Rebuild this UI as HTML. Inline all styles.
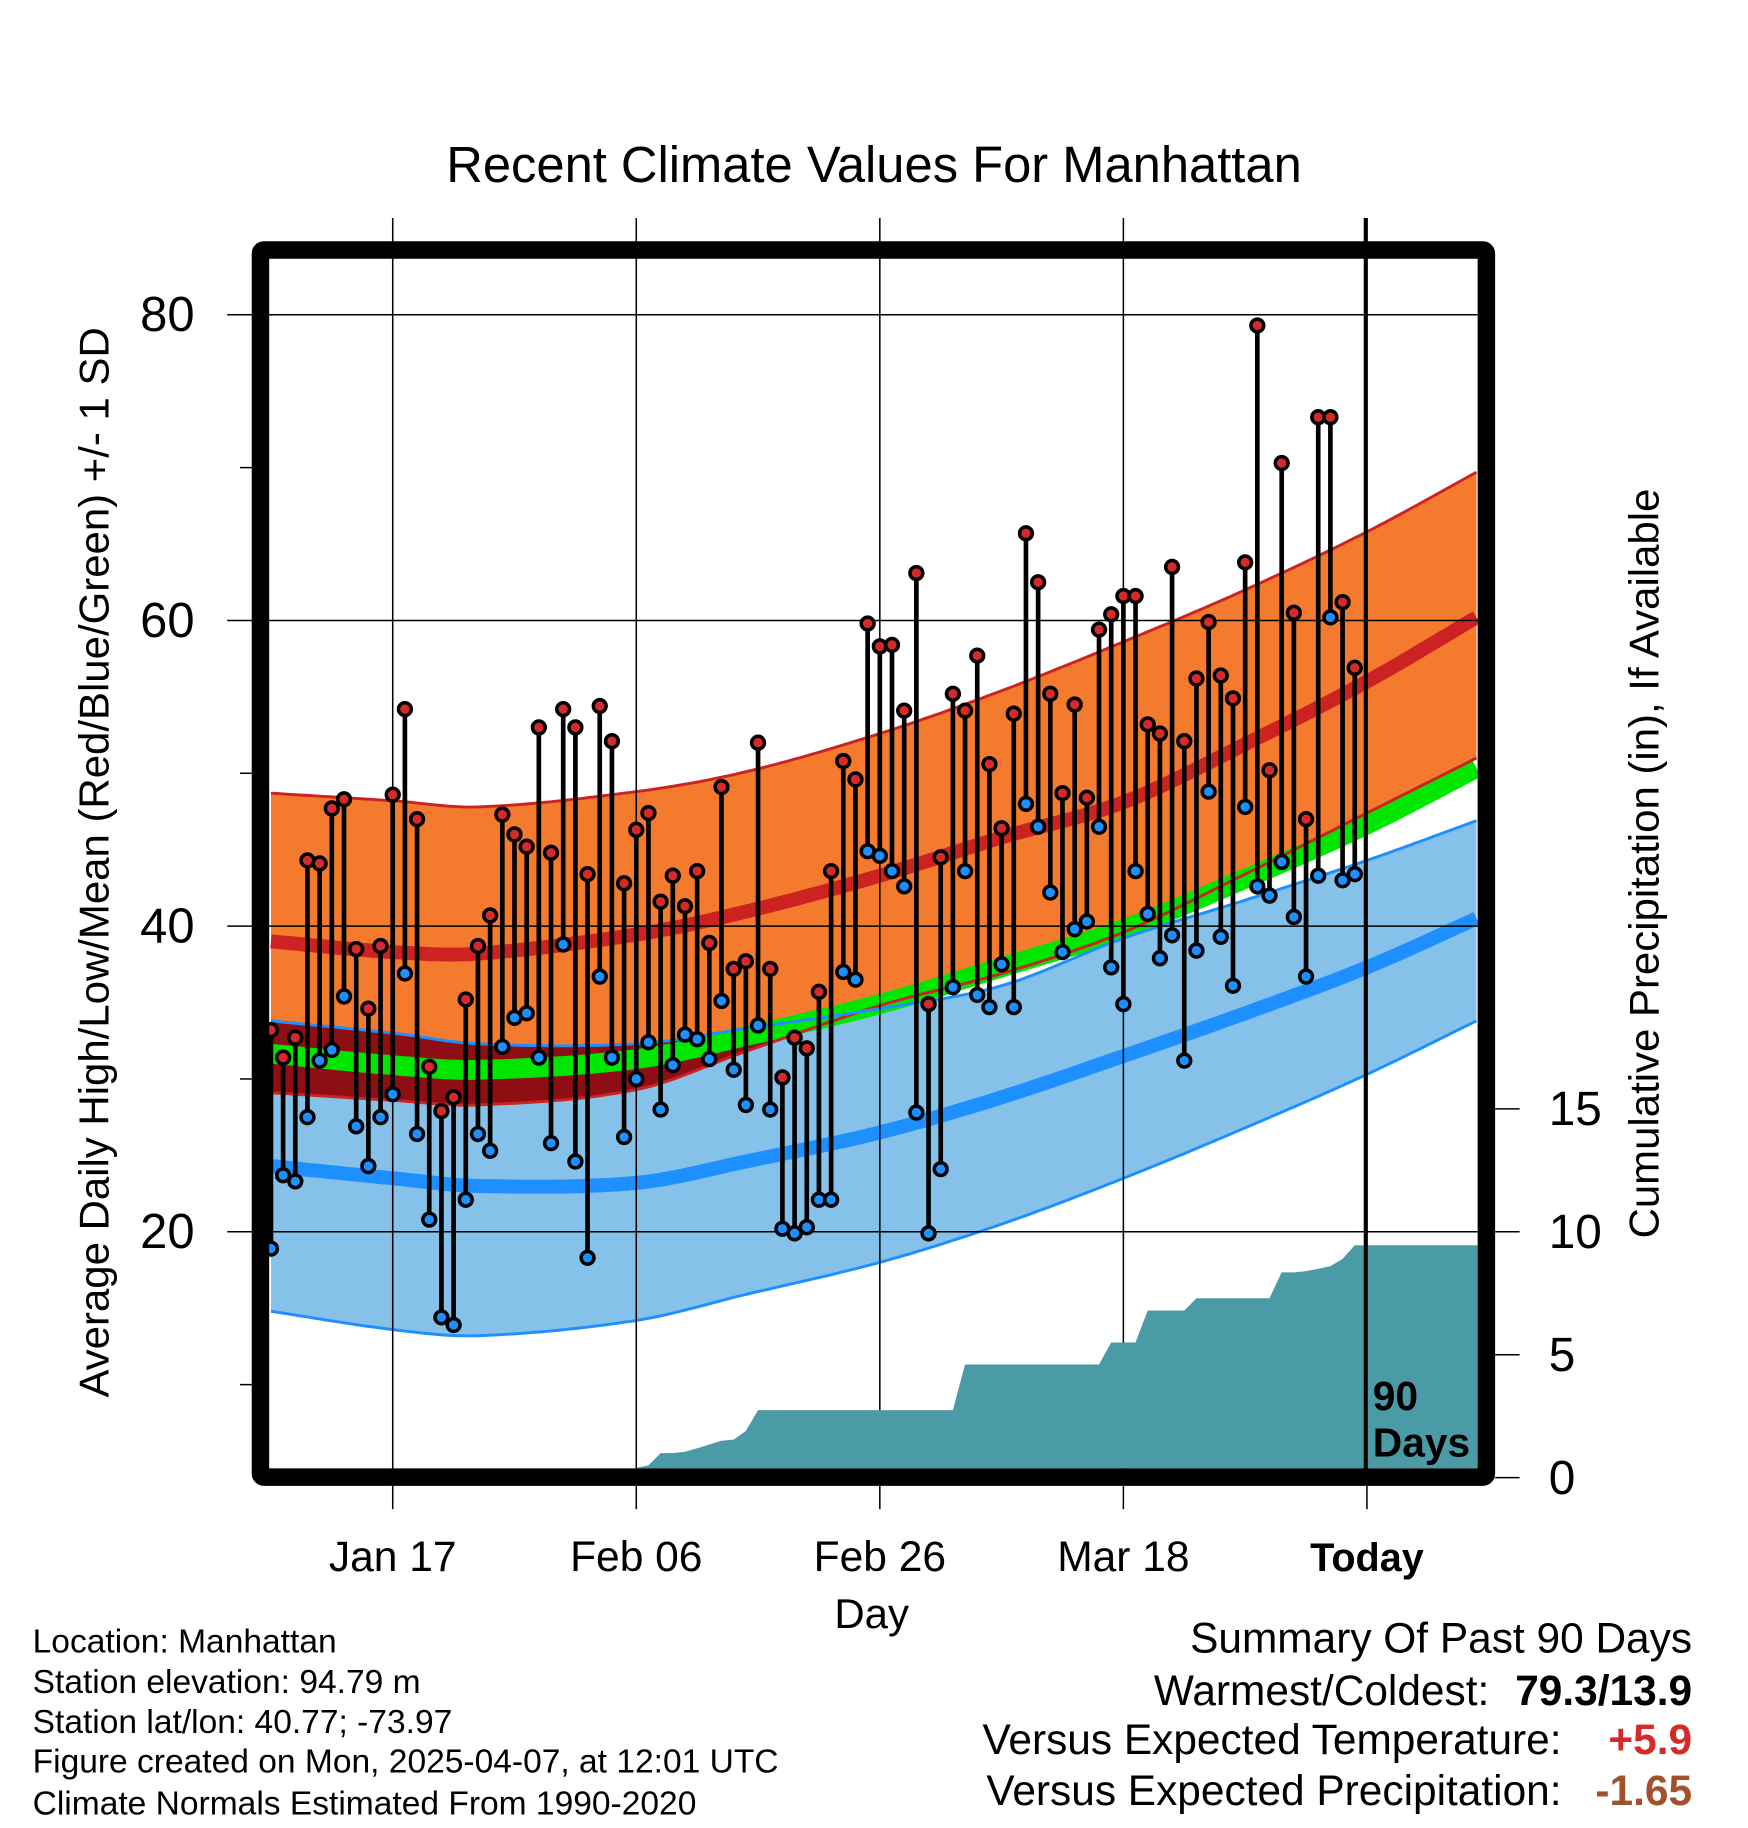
<!DOCTYPE html>
<html><head><meta charset="utf-8"><style>
html,body{margin:0;padding:0;background:#fff;}
svg{display:block;font-family:"Liberation Sans",Arial,sans-serif;}
</style></head><body>
<svg id="chart" width="1748" height="1828" viewBox="0 0 1500 1568.6" xmlns="http://www.w3.org/2000/svg">
<defs>
<clipPath id="plotClip"><rect x="231" y="222" width="1037" height="1038"/></clipPath>
<clipPath id="blueClip"><path id="blueClipPath" d=""/></clipPath>
</defs>
<text x="750" y="156" font-size="43.5" text-anchor="middle">Recent Climate Values For Manhattan</text>
<g id="bands" clip-path="url(#plotClip)"></g>
<g id="grid"></g>
<g id="precip" clip-path="url(#plotClip)"></g>
<g id="points"></g>
<line x1="1172" y1="187" x2="1172" y2="1262" stroke="#000" stroke-width="3.5"/>
<text x="1178" y="1210" font-size="35" font-weight="bold">90</text>
<text x="1178" y="1250" font-size="35" font-weight="bold">Days</text>
<rect x="223.5" y="214.5" width="1052" height="1053" fill="none" stroke="#000" stroke-width="15" rx="3"/>
<g id="axes"></g>
<text transform="translate(93,740) rotate(-90)" font-size="36" text-anchor="middle">Average Daily High/Low/Mean (Red/Blue/Green) +/- 1 SD</text>
<text transform="translate(1423,741) rotate(-90)" font-size="36" text-anchor="middle">Cumulative Precipitation (in), If Available</text>
<text x="748" y="1397" font-size="36" text-anchor="middle">Day</text>
<g font-size="28.8">
<text x="28" y="1418">Location: Manhattan</text>
<text x="28" y="1453">Station elevation: 94.79 m</text>
<text x="28" y="1487">Station lat/lon: 40.77; -73.97</text>
<text x="28" y="1521">Figure created on Mon, 2025-04-07, at 12:01 UTC</text>
<text x="28" y="1557">Climate Normals Estimated From 1990-2020</text>
</g>
<g font-size="36.4">
<text x="1452" y="1418" text-anchor="end">Summary Of Past 90 Days</text>
<text x="1278" y="1463" text-anchor="end">Warmest/Coldest:</text>
<text x="1452" y="1463" text-anchor="end" font-weight="bold">79.3/13.9</text>
<text x="1340" y="1505" text-anchor="end">Versus Expected Temperature:</text>
<text x="1452" y="1505" text-anchor="end" font-weight="bold" fill="#d42a2a">+5.9</text>
<text x="1340" y="1549" text-anchor="end">Versus Expected Precipitation:</text>
<text x="1452" y="1549" text-anchor="end" font-weight="bold" fill="#a0522d">-1.65</text>
</g>
</svg>
<script>
// ---- data ----
const normDays = [0,10,17,30,39,50,60,70,80,90,99];
const highPlusSD = [48.7,48.2,47.8,48.8,50.1,52.6,55.4,58.6,62.0,65.8,69.7];
const highMean = [39.0,38.3,38.2,39.45,40.95,43.3,45.8,48.1,51.9,56.0,60.2];
const highMinusSD = [29.1,28.6,28.3,29.3,31.8,34.8,36.9,39.6,43.4,47.4,51.0];
const dailyMean = [31.65,30.9,30.6,31.3,32.8,34.9,37.3,39.8,43.1,46.65,50.35];
const lowPlusSD = [33.8,33.0,32.3,32.3,33.3,34.6,36.1,39.2,41.7,44.3,46.9];
const lowMean = [24.3,23.5,23.0,23.2,24.6,26.5,28.8,31.5,34.3,37.3,40.5];
const lowMinusSD = [14.8,13.6,13.2,14.2,15.9,18.0,20.5,23.5,26.8,30.3,33.8];
const highs = [33.2,31.4,32.7,44.3,44.1,47.7,48.3,38.5,34.6,38.7,48.6,54.2,47.0,30.8,27.9,28.8,35.2,38.7,40.7,47.3,
46.0,45.2,53.0,44.8,54.2,53.0,43.4,54.4,52.1,42.8,46.3,47.4,41.6,43.3,41.3,43.6,38.9,49.1,37.2,37.7,
52.0,37.2,30.1,32.7,32.0,35.7,43.6,50.8,49.6,59.8,58.3,58.4,54.1,63.1,34.9,44.5,55.2,54.1,57.7,50.6,
46.4,53.9,65.7,62.5,55.2,48.7,54.5,48.4,59.4,60.4,61.6,61.6,53.2,52.6,63.5,52.1,56.2,59.9,56.4,54.9,
63.8,79.3,50.2,70.3,60.5,47.0,73.3,73.3,61.2,56.9];
const lows = [18.9,23.7,23.3,27.5,31.2,31.9,35.4,26.9,24.3,27.5,29.0,36.9,26.4,20.8,14.4,13.9,22.1,26.4,25.3,32.1,
34.0,34.3,31.4,25.8,38.8,24.6,18.3,36.7,31.4,26.2,30.0,32.4,28.0,30.9,32.9,32.6,31.3,35.1,30.6,28.3,
33.5,28.0,20.2,19.9,20.3,22.1,22.1,37.0,36.5,44.9,44.6,43.6,42.6,27.8,19.9,24.1,36.0,43.6,35.5,34.7,
37.5,34.7,48.0,46.5,42.2,38.3,39.8,40.3,46.5,37.3,34.9,43.6,40.8,37.9,39.4,31.2,38.4,48.8,39.3,36.1,
47.8,42.6,42.0,44.2,40.6,36.7,43.3,60.2,43.0,43.4];
const precipCum = [0,0,0,0,0,0,0,0,0,0,0,0,0,0,0,0,0,0,0,0,0,0,0,0,0.1,0.1,0.1,0.12,0.12,0.15,
0.4,0.5,1.0,1.0,1.05,1.2,1.35,1.5,1.55,1.9,2.75,2.75,2.75,2.75,2.75,2.75,2.75,2.75,2.75,2.75,
2.75,2.75,2.75,2.75,2.75,2.75,2.75,4.6,4.6,4.6,4.6,4.6,4.6,4.6,4.6,4.6,4.6,4.6,4.6,5.5,
5.5,5.5,6.8,6.8,6.8,6.8,7.3,7.3,7.3,7.3,7.3,7.3,7.3,8.35,8.35,8.4,8.5,8.6,8.9,9.45];
const xTickDays = [10,30,50,70,90];
const xTickLabels = ["Jan 17","Feb 06","Feb 26","Mar 18","Today"];
const yTicks = [20,40,60,80];
const yMinorTicks = [10,30,50,70];
const pTicks = [0,5,10,15];

// ---- scales ----
const X = d => 232.5 + 10.45*d;
const Y = v => 1057 - (v-20)*13.115;
const P = p => 1268 - p*21.1;
const NS = "http://www.w3.org/2000/svg";
function mk(tag, attrs, parent){const e=document.createElementNS(NS,tag);for(const k in attrs)e.setAttribute(k,attrs[k]);parent.appendChild(e);return e;}
function curvePts(vals){
  const n=normDays.length, m=[];
  for(let i=0;i<n;i++){
    const a=Math.max(0,i-1), b=Math.min(n-1,i+1);
    m.push((vals[b]-vals[a])/(normDays[b]-normDays[a]));
  }
  const out=[];
  for(let i=0;i<n-1;i++){
    const d0=normDays[i], d1=normDays[i+1], h=d1-d0;
    const steps=Math.max(4,Math.round(h*2));
    for(let s=(i===0?0:1);s<=steps;s++){
      const t=s/steps, t2=t*t, t3=t2*t;
      const v=(2*t3-3*t2+1)*vals[i]+(t3-2*t2+t)*h*m[i]+(-2*t3+3*t2)*vals[i+1]+(t3-t2)*h*m[i+1];
      out.push([X(d0+t*h),Y(v)]);
    }
  }
  return out;
}
function poly(pts,move){return pts.map((p,i)=>(i===0&&move?"M":"L")+p[0].toFixed(1)+","+p[1].toFixed(1)).join("");}
function band(top,bot){return poly(curvePts(top),true)+poly(curvePts(bot).reverse(),false)+"Z";}
function line(vals){return poly(curvePts(vals),true);}

const bands=document.getElementById('bands');
const orange=mk('path',{d:band(highPlusSD,highMinusSD),fill:'#f47b2e'},bands);


const blue=mk('path',{d:band(lowPlusSD,lowMinusSD),fill:'#85c1e8'},bands);


document.getElementById('blueClipPath').setAttribute('d',band(lowPlusSD,lowMinusSD));
const overlap=mk('path',{d:band(highPlusSD,highMinusSD),fill:'#8e0e14','clip-path':'url(#blueClip)'},bands);


const green=mk('path',{d:line(dailyMean),fill:'none',stroke:'#00e600','stroke-width':17},bands);


const redM=mk('path',{d:line(highMean),fill:'none',stroke:'#cc2222','stroke-width':12},bands);


const blueM=mk('path',{d:line(lowMean),fill:'none',stroke:'#1e8fff','stroke-width':12},bands);


[[highPlusSD,'#cc2222','high-plus-sd-edge'],[highMinusSD,'#cc2222','high-minus-sd-edge'],[lowPlusSD,'#1e8fff','low-plus-sd-edge'],[lowMinusSD,'#1e8fff','low-minus-sd-edge']].forEach(([v,c,n])=>{
  const e=mk('path',{d:line(v),fill:'none',stroke:c,'stroke-width':2.5},bands);
  
  
});

// grid
const grid=document.getElementById('grid');
xTickDays.forEach(d=>{
  const e=mk('line',{x1:X(d),x2:X(d),y1:187,y2:1262,stroke:'#000','stroke-width':1.3},grid);
  
  
});
yTicks.forEach(v=>{
  const e=mk('line',{x1:195,x2:1268,y1:Y(v),y2:Y(v),stroke:'#000','stroke-width':1.3},grid);
  
  
});

// precip
const pg=document.getElementById('precip');
let pd="M"+X(0)+","+P(0);
precipCum.forEach((p,i)=>{pd+="L"+X(i).toFixed(1)+","+P(p).toFixed(1);});
pd+="L1270,"+P(precipCum[precipCum.length-1]).toFixed(1)+"L1270,"+P(0)+"Z";
const pa=mk('path',{d:pd,fill:'#4a9ba5'},pg);



// points
const pts=document.getElementById('points');
highs.forEach((h,i)=>{
  const st=mk('line',{x1:X(i),x2:X(i),y1:Y(h),y2:Y(lows[i]),stroke:'#000','stroke-width':4},pts);
  
  
});
highs.forEach((h,i)=>{
  const c=mk('circle',{cx:X(i),cy:Y(h),r:5.5,fill:'#d42a2a',stroke:'#000','stroke-width':3},pts);
  
  
  const c2=mk('circle',{cx:X(i),cy:Y(lows[i]),r:5.5,fill:'#1e8fff',stroke:'#000','stroke-width':3},pts);
  
  
});

// axes
const ax=document.getElementById('axes');
xTickDays.forEach((d,i)=>{
  const t=mk('line',{x1:X(d),x2:X(d),y1:1275,y2:1295,stroke:'#000','stroke-width':1.3},ax);
  
  
  const l=mk('text',{x:X(d),y:1348,'font-size':36.5,'text-anchor':'middle'},ax);
  if(xTickLabels[i]==='Today'){l.setAttribute('font-weight','bold');l.setAttribute('font-size','34');}
  l.textContent=xTickLabels[i];
  
  
});
yTicks.forEach(v=>{
  const l=mk('text',{x:167,y:Y(v)+14,'font-size':42,'text-anchor':'end'},ax);
  l.textContent=v;
  
  
});
yMinorTicks.forEach(v=>{
  const t=mk('line',{x1:206,x2:216,y1:Y(v),y2:Y(v),stroke:'#000','stroke-width':1.3},ax);
  
  
});
pTicks.forEach(p=>{
  const t=mk('line',{x1:1283,x2:1304,y1:P(p),y2:P(p),stroke:'#000','stroke-width':1.3},ax);
  
  
  const l=mk('text',{x:1329,y:P(p)+14,'font-size':41},ax);
  l.textContent=p;
  
  
});
</script>
</body></html>
